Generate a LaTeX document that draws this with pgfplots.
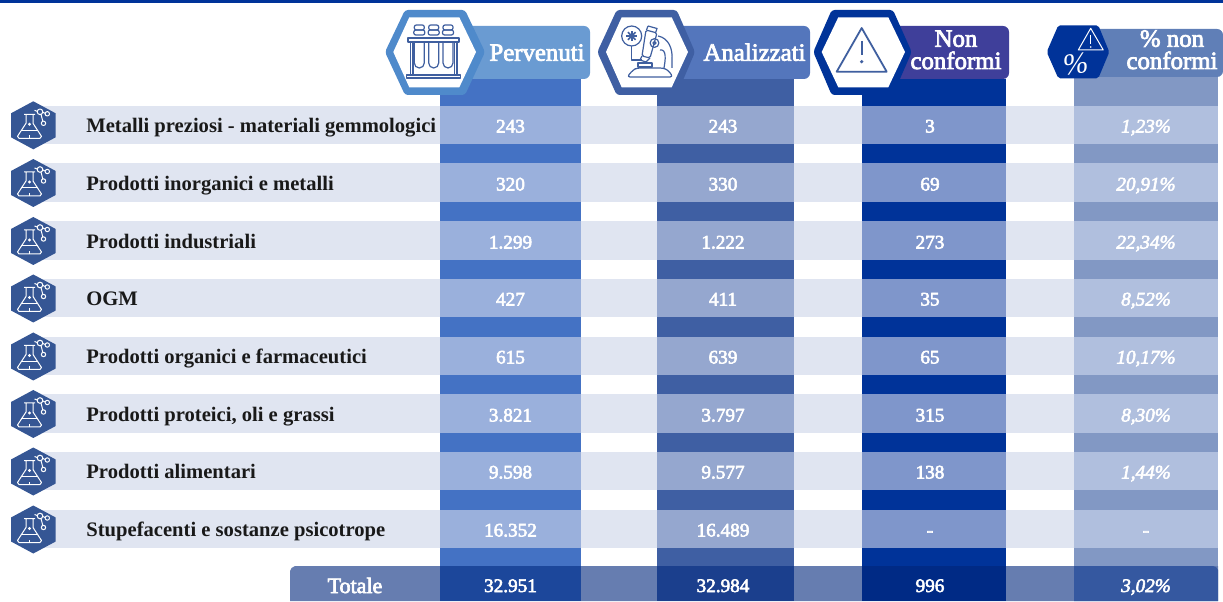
\documentclass[border=0pt]{standalone}
\usepackage{fontspec}
\setmainfont{Liberation Serif}
\newfontfamily\semi[FakeBold=3]{Liberation Serif}
\usepackage{pgfplots}
\usepackage{pgfplotstable}
\pgfplotsset{compat=1.18}

\definecolor{topbar}{HTML}{003399}
\definecolor{colA}{HTML}{4472C4}
\definecolor{colB}{HTML}{3F5FA3}
\definecolor{colC}{HTML}{003399}
\definecolor{colD}{HTML}{8298C4}
\definecolor{band}{HTML}{E0E5F1}
\definecolor{bandA}{HTML}{9AB0DC}
\definecolor{bandB}{HTML}{95A7CF}
\definecolor{bandC}{HTML}{7F96CB}
\definecolor{bandD}{HTML}{B0BFDE}
\definecolor{tot}{HTML}{667DB0}
\definecolor{totA}{HTML}{1C479B}
\definecolor{totB}{HTML}{1B3F8D}
\definecolor{totC}{HTML}{002A85}
\definecolor{totD}{HTML}{3558A0}
\definecolor{pillA}{HTML}{6A9BD2}
\definecolor{hexA}{HTML}{4F8ACB}
\definecolor{pillB}{HTML}{5476BC}
\definecolor{pillC}{HTML}{3F3F9A}
\definecolor{pillD}{HTML}{607FB7}
\definecolor{icon}{HTML}{3F5F9F}
\definecolor{flask}{HTML}{355694}

% y is the baseline of the row text, in pixels from the top
\pgfplotstableread[col sep=semicolon]{
y;label;a;b;c;d
132.5;Metalli preziosi - materiali gemmologici;243;243;3;1,23\%
190.5;Prodotti inorganici e metalli;320;330;69;20,91\%
248.5;Prodotti industriali;1.299;1.222;273;22,34\%
305.5;OGM;427;411;35;8,52\%
363.5;Prodotti organici e farmaceutici;615;639;65;10,17\%
421.5;Prodotti proteici, oli e grassi;3.821;3.797;315;8,30\%
478.5;Prodotti alimentari;9.598;9.577;138;1,44\%
536.5;Stupefacenti e sostanze psicotrope;16.352;16.489;-;-
592;;32.951;32.984;996;3,02\%
}\cells

\newcommand{\rect}[5]{\addplot[fill=#1,draw=none] coordinates {(#2,#3)(#4,#3)(#4,#5)(#2,#5)} --cycle;}
\newcommand{\tablerow}[2]{%
  \rect{band}{33}{#1}{1218}{#2}
  \rect{bandA}{440}{#1}{581}{#2}
  \rect{bandB}{657}{#1}{794}{#2}
  \rect{bandC}{862}{#1}{1006}{#2}
  \rect{bandD}{1074}{#1}{1218}{#2}
}
\newcommand{\valcol}[3]{%
  \addplot[draw=none,nodes near coords,point meta=explicit symbolic,
    every node near coord/.append style={anchor=base,text=white,inner sep=0pt,font=\semi\fontsize{9.6}{11}\selectfont#3}]
    table[x expr=#1,y=y,meta=#2] {\cells};
}

\begin{document}
\begin{tikzpicture}
\useasboundingbox (0,0) rectangle (611.5pt,300.5pt);
\begin{axis}[
    at={(0,0)},anchor=south west,
    width=611.5pt,height=300.5pt,scale only axis,
    xmin=0,xmax=1223,ymin=0,ymax=601,y dir=reverse,
    hide axis,
]
\rect{topbar}{0}{0}{1223}{3}
% columns
\rect{colA}{440}{79}{581}{601}
\rect{colB}{657}{79}{794}{601}
\rect{colC}{862}{79}{1006}{601}
\rect{colD}{1074}{77}{1218}{601}
% rows
\tablerow{105.5}{144}
\tablerow{163}{202}
\tablerow{221}{260}
\tablerow{279}{317}
\tablerow{337}{375}
\tablerow{394}{433}
\tablerow{452}{490}
\tablerow{510}{548}
% total
\addplot[fill=tot,draw=none] coordinates {(290,601)(290,571)(291.5,568)(295,566)(1218,566)(1218,601)} --cycle;
\rect{totA}{440}{566}{581}{601}
\rect{totB}{657}{566}{794}{601}
\rect{totC}{862}{566}{1006}{601}
\addplot[fill=totD,draw=none] coordinates {(1074,566)(1213,566)(1216,567)(1218,570)(1218,601)(1074,601)} --cycle;
% text
\addplot[draw=none,nodes near coords,point meta=explicit symbolic,
  every node near coord/.append style={anchor=base west,inner sep=0pt,text=black!90,font=\fontsize{10.3}{11}\selectfont\bfseries}]
  table[x expr=86,y=y,meta=label] {\cells};
\addplot[draw=none,nodes near coords,point meta=explicit symbolic,
  every node near coord/.append style={anchor=base,inner sep=0pt,text=white,font=\semi\fontsize{11}{12}\selectfont}]
  coordinates {(355,593) [Totale]};
\valcol{510.5}{a}{}
\valcol{723}{b}{}
\valcol{930}{c}{}
\valcol{1146}{d}{\itshape}
\end{axis}

\begin{scope}[x=0.5pt,y=-0.5pt,yshift=300.5pt]
\tikzset{hd/.style={text=white,anchor=base,inner sep=0pt,font=\semi\fontsize{12.4}{14}\selectfont}}
% header pills
\fill[pillA,rounded corners=3pt] (460,26) rectangle (590,79);
\fill[pillB,rounded corners=3pt] (670,26) rectangle (810,79);
\fill[pillC,rounded corners=3pt] (880,26) rectangle (1009,79);
\fill[pillD,rounded corners=3pt] (1080,29) rectangle (1223,77);
% header hexagons
\fill[hexA,rounded corners=1.5pt] (385,52)--(405,10)--(465,10)--(485,52)--(465,95)--(405,95)--cycle;
\fill[white] (393.3,52)--(409.3,17.3)--(459.3,17.3)--(476,52)--(459.3,87.3)--(409.3,87.3)--cycle;
\fill[colB,rounded corners=1.5pt] (597.3,52)--(616.7,10)--(676.7,10)--(695,52)--(676.7,95)--(616.7,95)--cycle;
\fill[white] (606,52)--(621.7,17.3)--(671.7,17.3)--(688,52)--(671.7,87.3)--(621.7,87.3)--cycle;
\fill[colC,rounded corners=1.5pt] (813.3,52)--(831.7,10)--(893,10)--(911.7,52)--(893,95)--(831.7,95)--cycle;
\fill[white] (821.7,52)--(838.3,17.3)--(888.3,17.3)--(905,52)--(888.3,87.3)--(838.3,87.3)--cycle;
\fill[colC,rounded corners=1pt] (1046.7,52)--(1058.3,25.3)--(1098.3,25.3)--(1109.3,52)--(1098.3,78.3)--(1058.3,78.3)--cycle;
% header text
\node[hd] at (537,60.7) {Pervenuti};
\node[hd] at (754.5,60.7) {Analizzati};
\node[hd] at (956,46.7) {Non};
\node[hd] at (956,69) {conformi};
\node[hd] at (1172,46.7) {\% non};
\node[hd] at (1172,69) {conformi};
% test tubes
\begin{scope}[icon,line width=0.6pt,line join=round]
\foreach \t in {419.3,433.7,448}{
  \draw[rounded corners=1pt] (\t-5,25) rectangle (\t+5,30);
  \draw[rounded corners=1pt] (\t-5.5,30) rectangle (\t+5.5,35);
  \draw (\t-5,42)--(\t-5,63) arc[start angle=180,end angle=0,radius=5]--(\t+5,42);
}
\draw (408,38) rectangle (459,42);
\draw (410.7,42)--(410.7,75) (413,42)--(413,75) (457,42)--(457,75) (454.7,42)--(454.7,75);
\draw (406.7,75) rectangle (460.7,78);
\end{scope}
% microscope
\begin{scope}[icon,line width=0.6pt,line join=round]
\draw (631.7,36) circle[radius=5pt];
\foreach \a in {0,45,...,315}{\draw[line width=0.8pt] (631.7,36)--++(\a:2.7pt);}
\draw (631.7,46)--(631.7,60)--(642,60);
\draw[rounded corners=0.8pt] (646,30)--(657,33)--(650,58)--(642,56)--cycle;
\draw (648,26)--(657,28.5)--(655.5,33) (648,26)--(646.5,30);
\draw (642,56)--(640,60)--(646,62)--(650,58);
\draw (654.5,43) circle[radius=2.2pt] (654.5,43) circle[radius=0.8pt];
\draw (658,36) to[out=-10,in=85] (672,60)--(672,68);
\draw (660,50) to[out=10,in=80] (664,68);
\draw (638,63) rectangle (652,67);
\draw[rounded corners=1.5pt] (627,77)--(633,70)--(637,68)--(663,68)--(668,70)--(673,77)--cycle;
\end{scope}
% warning triangles
\draw[icon,line width=0.9pt,line join=round] (861.7,28)--(836.7,71.7)--(886.7,71.7)--cycle;
\draw[icon,line width=1.1pt] (861.7,41)--(861.7,55);
\fill[icon] (861.7,61.7) circle[radius=0.9pt];
\draw[white,line width=0.5pt,line join=round] (1090.7,28.3)--(1078.3,50)--(1103.3,50)--cycle;
\draw[white,line width=0.5pt] (1090.7,35)--(1090.7,44);
\fill[white] (1090.7,47) circle[radius=0.4pt];
\node[white,anchor=base,inner sep=0pt,font=\fontsize{15}{15}\selectfont\itshape,rotate=8] at (1077,74) {\%};
% row flasks
\foreach \c in {125.3,183,241,298.5,356.5,414,471.5,529.5}{
  \begin{scope}[yshift={-0.5pt*\c}]
  \fill[flask] (33.3,-24)--(55.7,-12)--(55.7,12)--(33.3,24)--(11,12)--(11,-12)--cycle;
  \begin{scope}[white,line width=0.5pt,line join=round]
  \draw (24,-11)--(35,-11) (26,-11)--(26,-2)--(17.5,11)--(19,13)--(40,13)--(41.5,11)--(33,-2)--(33,-11);
  \draw (21,5)--(38,5) (29.5,13)--(29.5,10);
  \fill (29.5,-1) circle[radius=0.8pt];
  \draw (40,-13.5) circle[radius=1.4pt] (47.3,-11.5) circle[radius=1.1pt] (43.5,-2) circle[radius=1.1pt];
  \draw (34.5,-15)--(37.2,-14) (42.8,-13)--(45.2,-12) (41,-11)--(42.8,-4);
  \end{scope}
  \end{scope}
}
\end{scope}
\end{tikzpicture}
\end{document}
